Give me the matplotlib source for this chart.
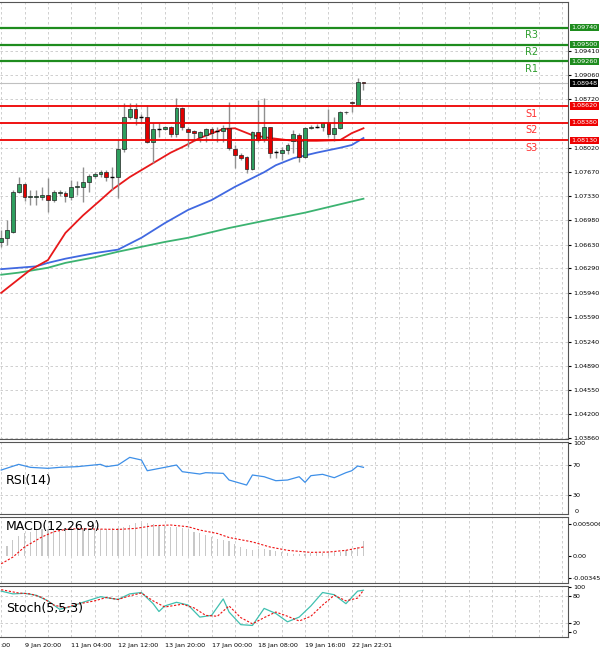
import matplotlib
matplotlib.use("Agg")
import matplotlib.pyplot as plt
import numpy as np

# candles (oldest -> newest), EURUSD H4
opens = [1.0667,1.0673,1.0681,1.0739,1.0750,1.0732,1.0732,1.0732,1.0734,1.0727,
         1.0737,1.0737,1.0732,1.0746,1.0746,1.0753,1.0762,1.0764,1.0767,1.0760,
         1.0760,1.0800,1.0846,1.0858,1.0846,1.0846,1.0810,1.0829,1.0829,1.0832,
         1.0822,1.0859,1.0829,1.0826,1.0818,1.0820,1.0829,1.0826,1.0826,1.0830,
         1.0800,1.0792,1.0789,1.0772,1.0825,1.0815,1.0832,1.0796,1.0795,1.0799,
         1.0812,1.0820,1.0789,1.0830,1.0832,1.0832,1.0838,1.0822,1.0830,1.0853,
         1.0868,1.0863,1.0896]
highs = [1.0684,1.0699,1.0742,1.0760,1.0751,1.0742,1.0742,1.0746,1.0759,1.0742,
         1.0742,1.0740,1.0756,1.0754,1.0775,1.0764,1.0767,1.0770,1.0770,1.0775,
         1.0813,1.0866,1.0866,1.0866,1.0851,1.0863,1.0838,1.0838,1.0833,1.0833,
         1.0873,1.0860,1.0832,1.0827,1.0826,1.0830,1.0832,1.0832,1.0834,1.0868,
         1.0806,1.0795,1.0790,1.0826,1.0871,1.0873,1.0832,1.0799,1.0803,1.0809,
         1.0828,1.0823,1.0832,1.0834,1.0836,1.0839,1.0858,1.0846,1.0855,1.0855,
         1.0869,1.0902,1.0896]
lows = [1.0660,1.0663,1.0680,1.0737,1.0725,1.0720,1.0720,1.0727,1.0710,1.0724,
        1.0733,1.0724,1.0727,1.0734,1.0724,1.0738,1.0758,1.0760,1.0755,1.0742,
        1.0730,1.0796,1.0843,1.0835,1.0837,1.0809,1.0780,1.0818,1.0828,1.0818,
        1.0818,1.0828,1.0803,1.0812,1.0811,1.0810,1.0815,1.0810,1.0810,1.0799,
        1.0773,1.0785,1.0766,1.0770,1.0810,1.0810,1.0787,1.0787,1.0785,1.0793,
        1.0795,1.0782,1.0787,1.0829,1.0830,1.0826,1.0818,1.0812,1.0829,1.0851,
        1.0853,1.0863,1.0885]
closes = [1.0673,1.0684,1.0739,1.0750,1.0732,1.0733,1.0733,1.0734,1.0727,1.0739,
          1.0738,1.0733,1.0746,1.0747,1.0753,1.0762,1.0764,1.0767,1.0760,1.0760,
          1.0800,1.0846,1.0858,1.0845,1.0846,1.0810,1.0829,1.0829,1.0832,1.0822,
          1.0859,1.0832,1.0825,1.0823,1.0825,1.0829,1.0823,1.0826,1.0830,1.0802,
          1.0792,1.0787,1.0772,1.0825,1.0813,1.0832,1.0795,1.0796,1.0799,1.0806,
          1.0822,1.0789,1.0830,1.0832,1.0832,1.0838,1.0822,1.0830,1.0853,1.0854,
          1.0866,1.0896,1.0895]

# moving averages (sampled at candle index)
ma_red_idx = [0,5,8,11,14,17,19,22,25,29,31,34,38,40,43,46,50,54,58,60,62]
ma_red = [1.0594,1.0627,1.0641,1.0680,1.0705,1.0727,1.0742,1.0760,1.0775,1.0795,1.0803,
          1.0816,1.0829,1.0830,1.0820,1.0816,1.0812,1.0812,1.0813,1.0823,1.0830]
ma_blue_idx = [0,3,6,8,11,16,20,24,28,32,36,40,45,47,50,54,58,60,62]
ma_blue = [1.0628,1.0630,1.0632,1.0637,1.0643,1.0651,1.0656,1.0673,1.0694,1.0713,
           1.0727,1.0746,1.0767,1.0777,1.0787,1.0795,1.0802,1.0806,1.0816]
ma_green_idx = [0,3,8,11,16,20,24,28,32,39,46,52,59,62]
ma_green = [1.0620,1.0623,1.0630,1.0637,1.0645,1.0653,1.0660,1.0667,1.0673,1.0687,
            1.0699,1.0709,1.0723,1.0729]

# pivot levels
res_levels = [1.0926, 1.0950, 1.0974]
res_names = ["R1", "R2", "R3"]
sup_levels = [1.0862, 1.0838, 1.0813]
sup_names = ["S1", "S2", "S3"]
last_price = 1.08948
price_ticks = [1.0941,1.0906,1.0872,1.0802,1.0767,1.0733,1.0698,1.0663,1.0629,
               1.0594,1.0559,1.0524,1.0489,1.0455,1.0420,1.0386]

# RSI(14)
rsi_idx = [0,3,5,8,10,13,17,18,20,22,24,25,28,30,31,34,35,38,39,42,43,45,47,49,51,52,53,55,57,59,60,61,62]
rsi = [63.3,70.9,66.9,65.6,66.9,67.8,70.9,67.8,70.0,80.2,76.7,62.4,66.9,70.0,61.1,58.0,
       59.8,58.9,50.0,43.3,56.7,54.4,49.1,50.0,54.4,46.9,55.8,57.6,53.1,59.8,62.4,68.7,66.9]

# MACD(12,26,9)
macd_hist = [0.0,0.00153,0.00248,0.00311,0.00353,0.00379,0.00406,0.00416,0.00422,0.00427,
             0.00422,0.00416,0.00416,0.00416,0.00416,0.00416,0.00416,0.00422,0.00427,0.00432,
             0.00443,0.00458,0.00485,0.00511,0.00522,0.00516,0.00495,0.00474,0.00464,0.00458,
             0.00448,0.00443,0.00427,0.00379,0.00353,0.00327,0.00300,0.00274,0.00258,0.00232,
             0.00195,0.00143,0.00105,0.00090,0.00105,0.00116,0.00100,0.00079,0.00058,0.00047,
             0.00037,0.00026,0.00037,0.00042,0.00047,0.00047,0.00053,0.00063,0.00069,0.00090,
             0.00116,0.00143,0.00232]
macd_sig_idx = [0,2,4,7,9,11,13,20,23,26,29,32,34,37,39,43,46,49,53,56,59,62]
macd_sig = [-0.00121,-0.00016,0.00142,0.00300,0.00379,0.00416,0.00427,0.00416,0.00432,0.00474,
            0.00485,0.00458,0.00406,0.00353,0.00290,0.00221,0.00142,0.00090,0.00058,0.00063,
            0.00090,0.00142]

# Stoch(5,5,3)
stk_idx = [0,2,4,6,8,10,12,14,17,20,22,24,26,27,28,30,32,34,36,38,39,41,43,45,47,49,51,53,55,57,59,61,62]
stk = [90.6,84.4,85.6,81.3,68.8,50.0,56.3,65.6,78.1,71.9,84.4,87.5,62.5,45.0,57.5,65.6,59.4,
       32.5,36.3,73.1,43.8,15.6,13.8,51.9,40.6,21.9,32.5,57.5,87.5,82.5,62.5,90.6,92.5]
std_idx = [0,3,5,7,9,11,13,16,18,20,22,24,26,28,31,33,35,37,39,41,43,45,47,49,51,53,55,57,59,61,62]
std = [93.8,86.3,84.4,76.3,59.4,53.1,61.3,68.8,76.3,71.9,80.0,86.3,68.8,55.0,61.3,53.1,36.3,
       34.4,57.5,31.3,17.5,31.3,43.8,34.4,23.8,34.4,59.4,81.3,68.8,75.0,92.5]

time_ticks = [4,12,20,28,36,44,52,60]
time_labels = ["9 Jan 20:00","11 Jan 04:00","12 Jan 12:00","13 Jan 20:00",
               "17 Jan 00:00","18 Jan 08:00","19 Jan 16:00","22 Jan 22:01"]

NARROW = "Liberation Sans Narrow"
SMALL = 4.6

W, H = 600, 656
fig = plt.figure(figsize=(6, 6.56), dpi=100)
right = 568 / W

def mk(top, bot):
    return fig.add_axes([0, 1 - bot / H, right, (bot - top) / H])

ax = mk(2, 439)
ax_rsi = mk(442, 514)
ax_macd = mk(517, 583)
ax_sto = mk(586, 637)

GRID = dict(color="#c8c8c8", linestyle=(0, (3, 3)), linewidth=0.6)
XMAX = 97
for a in (ax, ax_rsi, ax_macd, ax_sto):
    a.set_xlim(-0.2, XMAX)
    a.set_xticks([])
    a.yaxis.tick_right()
    a.tick_params(axis="y", length=2, labelsize=SMALL, pad=1.5)
    for s in a.spines.values():
        s.set_color("#555555")
        s.set_linewidth(0.8)
    a.spines["left"].set_visible(False)
    for g in range(0, XMAX, 4):
        a.axvline(g, zorder=0, **GRID)

def narrow_ticks(a):
    for t in a.get_yticklabels():
        t.set_fontfamily(NARROW)

# main price panel
n = len(closes)
x = np.arange(n)
ax.set_ylim(1.03845, 1.1011)
ax.set_yticks(price_ticks)
ax.set_yticklabels(["%.5f" % p for p in price_ticks])
narrow_ticks(ax)
for p in price_ticks:
    ax.axhline(p, zorder=0, **GRID)

ax.plot(ma_green_idx, ma_green, color="#3cb371", lw=1.3, zorder=2)
ax.plot(ma_blue_idx, ma_blue, color="#4169e1", lw=1.3, zorder=2)
ax.plot(ma_red_idx, ma_red, color="#e8181a", lw=1.3, zorder=2)

for i in range(n):
    o, h, l, c = opens[i], highs[i], lows[i], closes[i]
    ax.vlines(i, l, h, color="#909090", lw=1, zorder=3)
    if abs(c - o) < 0.00008:
        ax.hlines(c, i - 0.35, i + 0.35, color="black", lw=1, zorder=4)
    else:
        col = "#2e9e5e" if c > o else "#e00000"
        ax.bar(i, abs(c - o), bottom=min(o, c), width=0.65, color=col,
               edgecolor="#222222", lw=0.5, zorder=4)

ytr = ax.get_yaxis_transform()
box_kw = dict(transform=ytr, fontsize=SMALL, fontfamily=NARROW, color="white",
              va="center", ha="left", clip_on=False)
ax.axhline(last_price, color="#c0c0c0", lw=0.8, zorder=1)
for lv, nm in zip(res_levels, res_names):
    ax.axhline(lv, color="#1e8c1e", lw=1.6, zorder=5)
    ax.text(0.935, lv - 0.0011, nm, transform=ytr, color="#2e9e2e", fontsize=7,
            ha="center", va="center")
    ax.text(1.006, lv, "%.5f" % lv, bbox=dict(fc="#1e8c1e", ec="none", pad=0.8), **box_kw)
for lv, nm in zip(sup_levels, sup_names):
    ax.axhline(lv, color="#ee0000", lw=1.3, zorder=5)
    ax.text(0.935, lv - 0.0011, nm, transform=ytr, color="#ff3030", fontsize=7,
            ha="center", va="center")
    ax.text(1.006, lv, "%.5f" % lv, bbox=dict(fc="#ee0000", ec="none", pad=0.8), **box_kw)
ax.text(1.006, last_price, "%.5f" % last_price, bbox=dict(fc="black", ec="none", pad=0.8),
        **box_kw)

# RSI
ax_rsi.set_ylim(4.7, 100.7)
ax_rsi.set_yticks([100, 70, 30])
narrow_ticks(ax_rsi)
for v in (70, 30):
    ax_rsi.axhline(v, zorder=0, **GRID)
ax_rsi.text(1.012, 0.04, "0", transform=ax_rsi.transAxes, fontsize=SMALL,
            fontfamily=NARROW, va="center")
ax_rsi.plot(rsi_idx, rsi, color="#3d8fe8", lw=0.9)
ax_rsi.text(0.01, 0.47, "RSI(14)", transform=ax_rsi.transAxes, fontsize=9, va="center")

# MACD
ax_macd.set_ylim(-0.0042, 0.0061)
ax_macd.set_yticks([0.005006, 0.0, -0.003458])
ax_macd.set_yticklabels(["0.005006", "0.00", "-0.003458"])
narrow_ticks(ax_macd)
ax_macd.bar(x, macd_hist, width=0.2, color="#c8c8c8")
ax_macd.plot(macd_sig_idx, macd_sig, color="#ee1111", lw=0.8, linestyle=(0, (2, 1.5)))
ax_macd.text(0.01, 0.85, "MACD(12,26,9)", transform=ax_macd.transAxes, fontsize=9, va="center")

# Stochastic
ax_sto.set_ylim(-12, 102)
ax_sto.set_yticks([100, 80, 20, 0])
narrow_ticks(ax_sto)
for v in (80, 20):
    ax_sto.axhline(v, zorder=0, **GRID)
ax_sto.plot(stk_idx, stk, color="#40c0b0", lw=0.9)
ax_sto.plot(std_idx, std, color="#ee1111", lw=0.8, linestyle=(0, (2, 1.5)))
ax_sto.text(0.01, 0.55, "Stoch(5,5,3)", transform=ax_sto.transAxes, fontsize=9, va="center")
xtr = ax_sto.get_xaxis_transform()
for t, lab in zip(time_ticks, time_labels):
    ax_sto.text(t, -0.12, lab, transform=xtr, fontsize=SMALL, fontfamily=NARROW,
                ha="left", va="top")
ax_sto.text(-0.2, -0.12, ":00", transform=xtr, fontsize=SMALL, fontfamily=NARROW,
            ha="left", va="top")

fig.savefig("out.png", dpi=100)
